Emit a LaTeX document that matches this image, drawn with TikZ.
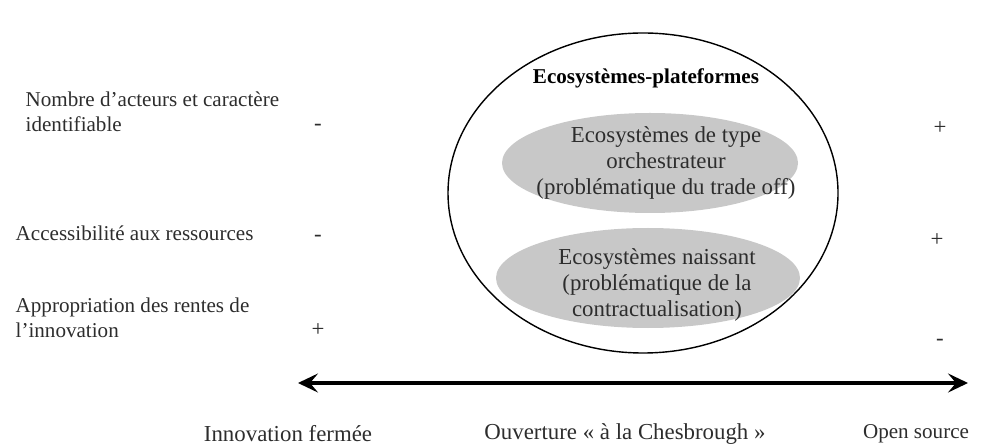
\documentclass[tikz,border=0pt]{standalone}
\usepackage{fontspec}
\setmainfont{Liberation Serif}
\usetikzlibrary{arrows.meta,shapes.geometric}
\definecolor{ecogray}{RGB}{200,200,200}
\definecolor{txtgray}{RGB}{45,45,45}

\begin{document}
\begin{tikzpicture}[line width=0.8pt, >={Stealth[length=4mm,width=3.8mm,inset=1.6mm]}]
          \tikzstyle{every node}=[font=\fontsize{13}{15}\selectfont, text=txtgray]
          \tikzstyle{crit}=[font=\fontsize{12}{14.2}\selectfont, align=left, anchor=west, inner sep=0pt]
          \tikzstyle{sign}=[font=\fontsize{13}{14}\selectfont]
            \useasboundingbox (0, 0) rectangle (19.64, 8.92);
            % criteres
            \node[crit] (nb) at (0.5, 6.68) {Nombre d'acteurs et caractère\\identifiable};
            \node[crit] (acc) at (0.3, 4.26) {Accessibilité aux ressources};
            \node[crit] (app) at (0.3, 2.56) {Appropriation des rentes de\\l'innovation};
            \node[sign] (nbf) at (6.36, 6.38) {-};
            \node[sign] (accf) at (6.36, 4.16) {-};
            \node[sign] (appf) at (6.36, 2.32) {+};
            \node[sign] (nbo) at (18.8, 6.36) {+};
            \node[sign] (acco) at (18.74, 4.12) {+};
            \node[sign] (appo) at (18.8, 2.08) {-};
            % ecosystemes
            \draw (12.86, 5.06) ellipse (3.9 and 3.2);
            \fill[ecogray] (13.0, 5.66) ellipse (2.96 and 1.0);
            \fill[ecogray] (12.96, 3.36) ellipse (3.04 and 1.0);
            \node[font=\fontsize{12}{15}\selectfont\bfseries, text=black] (plat) at (12.92, 7.36) {Ecosystèmes-plateformes};
            \node[align=center] (orch) at (13.32, 5.66) {Ecosystèmes de type\\orchestrateur\\(problématique du trade off)};
            \node[align=center] (nais) at (13.14, 3.22) {Ecosystèmes naissant\\(problématique de la\\contractualisation)};
            % axe
            \coordinate (ax) at (5.96, 1.26);
            \coordinate (bx) at (19.36, 1.26);
            \draw[<->, line width=2.2pt] (ax) -- (bx);
            \node (fer) at (5.76, 0.24) {Innovation fermée};
            \node (ches) at (12.5, 0.24) {Ouverture « à la Chesbrough »};
            \node[font=\fontsize{12}{14}\selectfont] (os) at (18.32, 0.24) {Open source};
        \end{tikzpicture}
\end{document}
